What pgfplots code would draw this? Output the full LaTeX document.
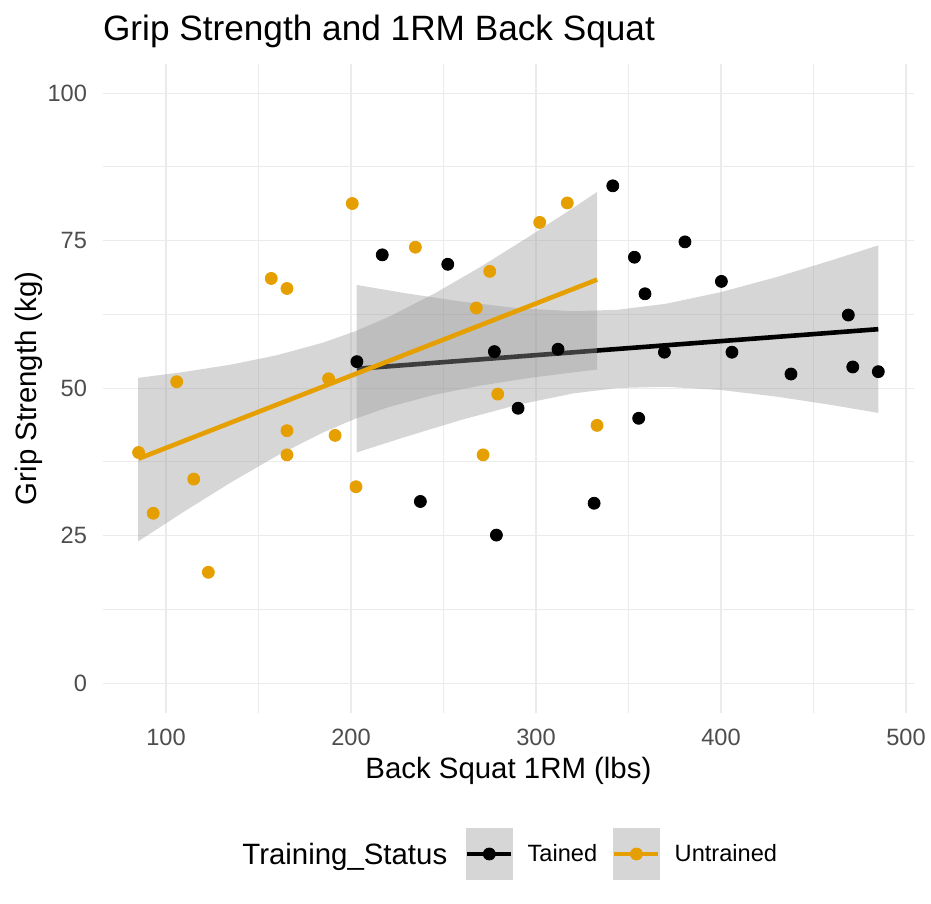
\documentclass[border=0pt]{standalone}
\usepackage{fontspec}
\setmainfont{Liberation Sans}
\usepackage{pgfplots}
\pgfplotsset{compat=1.18}
\definecolor{ggorange}{HTML}{E69F00}
\definecolor{gridc}{HTML}{EBEBEB}
\definecolor{tickc}{HTML}{4D4D4D}
\definecolor{ribbon}{HTML}{999999}
\definecolor{keybg}{HTML}{D6D6D6}
\begin{document}
\begin{tikzpicture}
\path[use as bounding box] (-51.35pt,-95.65pt) rectangle (414.15pt,356.35pt);
\begin{axis}[
  at={(0pt,0pt)}, anchor=south west,
  scale only axis, width=405.65pt, height=324.5pt,
  xmin=65.8, xmax=504.3, ymin=-5, ymax=105,
  xtick={100,200,300,400,500}, ytick={0,25,50,75,100},
  minor xtick={150,250,350,450}, minor ytick={12.5,37.5,62.5,87.5},
  grid=both,
  major grid style={draw=gridc, line width=0.65pt},
  minor grid style={draw=gridc, line width=0.45pt},
  axis line style={draw=none},
  major tick length=0pt, minor tick length=0pt,
  tick label style={font=\fontsize{11.8pt}{14pt}\selectfont, text=tickc, inner sep=0pt},
  /pgf/number format/assume math mode=true,
  xticklabel shift=7.8pt, yticklabel shift=7.7pt,
  legend columns=-1,
  legend cell align=left,
  legend style={
    at={(0.44657,-0.21772)}, anchor=west, draw=none, fill=none,
    inner sep=0pt, outer sep=0pt,
    font=\fontsize{11.8pt}{14pt}\selectfont,
    nodes={inner sep=0pt},
    /tikz/every odd column/.append style={column sep=7pt},
    /tikz/every even column/.append style={column sep=7.5pt},
  },
]
% points
\addplot[only marks, mark=*, mark size=3pt, black, mark options={draw=none, fill=black}, forget plot] coordinates {
(216.9,72.6) (252.3,71.0) (203.2,54.5) (277.5,56.2) (237.5,30.8) (278.6,25.1)
(341.5,84.3) (311.9,56.6) (290.3,46.6) (331.4,30.5) (353.2,72.2) (380.5,74.8)
(358.9,66.0) (400.2,68.1) (468.8,62.4) (369.4,56.1) (405.9,56.1) (437.8,52.4)
(471.2,53.6) (485.0,52.8) (355.5,44.9)
};
\addplot[only marks, mark=*, mark size=3pt, ggorange, mark options={draw=none, fill=ggorange}, forget plot] coordinates {
(200.7,81.3) (234.8,73.9) (156.9,68.6) (165.4,66.9) (275.0,69.8) (267.7,63.6)
(105.8,51.1) (187.9,51.6) (279.3,49.0) (165.4,42.8) (191.4,42.0) (85.2,39.1)
(165.4,38.7) (271.4,38.7) (115.0,34.6) (93.1,28.8) (202.7,33.3) (122.9,18.8)
(316.9,81.4) (302.0,78.1) (333.0,43.7)
};
% Trained ribbon and line
\addplot[draw=none, fill=ribbon, fill opacity=0.4, forget plot] coordinates {
(203,67.5) (230,66.07) (260,64.66) (290,63.56) (320,63.05) (344,63.29) (370,64.30) (400,66.29) (430,68.83) (460,71.7) (485,74.21)
(485,45.81) (460,47.14) (430,48.57) (400,49.69) (370,50.24) (344,50.03) (320,49.11) (290,47.18) (260,44.66) (230,41.81) (203,39.1)
};
\addplot[black, line width=2.3pt, forget plot] coordinates {(203.2,53.3) (485.0,60.0)};
% Untrained ribbon and line
\addplot[draw=none, fill=ribbon, fill opacity=0.4, forget plot] coordinates {
(85,51.75) (110,52.77) (135,53.99) (160,55.59) (185,57.73) (202,59.62) (220,62.03) (245,66.02) (270,70.56) (295,75.45) (320,80.54) (333,83.25)
(333,53.15) (320,52.68) (295,51.67) (270,50.44) (245,48.88) (220,46.77) (202,44.78) (185,42.51) (160,38.55) (135,34.01) (110,29.13) (85,24.05)
};
\addplot[ggorange, line width=2.3pt, forget plot] coordinates {(85.2,38.06) (333.0,68.4)};
% legend
\addlegendimage{legend image code/.code={
  \fill[keybg] (0pt,-12.75pt) rectangle (23pt,12.75pt);
  \draw[black, line width=2.3pt] (0.5pt,0pt) -- (22.5pt,0pt);
  \fill[black] (11.5pt,0pt) circle (3pt);
}}
\addlegendentry{Tained}
\addlegendimage{legend image code/.code={
  \fill[keybg] (0pt,-12.75pt) rectangle (23pt,12.75pt);
  \draw[ggorange, line width=2.3pt] (0.5pt,0pt) -- (22.5pt,0pt);
  \fill[ggorange] (11.5pt,0pt) circle (3pt);
}}
\addlegendentry{Untrained}
\end{axis}
\node[anchor=base west, inner sep=0pt, font=\fontsize{17.6pt}{21pt}\selectfont] at (0pt,336pt) {Grip Strength and 1RM Back Squat};
\node[anchor=base, inner sep=0pt, font=\fontsize{14.7pt}{17pt}\selectfont] at (202.85pt,-32.8pt) {Back Squat 1RM (lbs)};
\node[anchor=base, inner sep=0pt, rotate=90, font=\fontsize{14.7pt}{17pt}\selectfont] at (-33pt,162.25pt) {Grip Strength (kg)};
\node[anchor=base west, inner sep=0pt, font=\fontsize{14.7pt}{17pt}\selectfont] at (69.65pt,-75.9pt) {Training\_Status};
\end{tikzpicture}
\end{document}
